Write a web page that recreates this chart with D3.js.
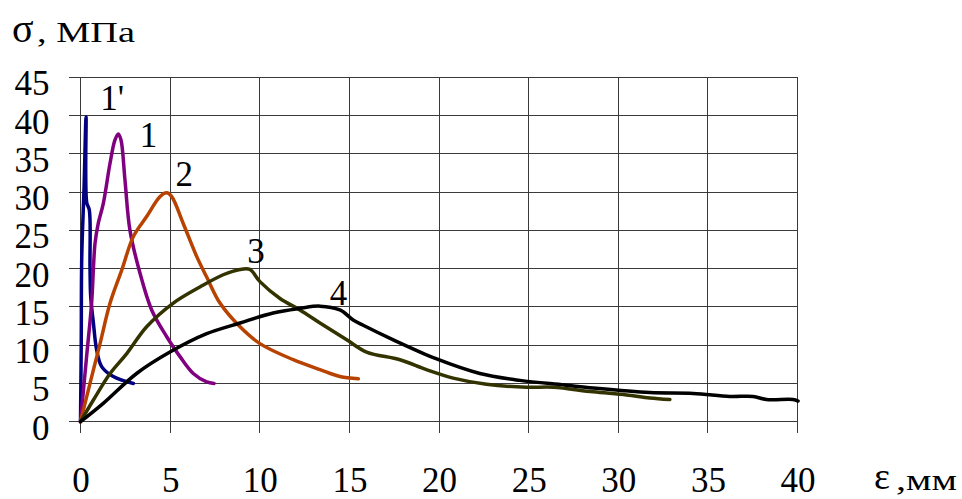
<!DOCTYPE html>
<html>
<head>
<meta charset="utf-8">
<script src="https://cdn.jsdelivr.net/npm/d3@7/dist/d3.min.js"></script>
<style>
  html, body { margin: 0; padding: 0; background: #fff; }
  svg { display: block; }
  text { font-family: "Times New Roman", Times, "Liberation Serif", Tinos, "Nimbus Roman", FreeSerif, serif; fill: #000; }
</style>
</head>
<body>
<svg id="chart" width="962" height="499"></svg>
<script>
// Stress–strain curves σ(ε) for specimens 1', 1, 2, 3, 4
const xTicks = [0, 5, 10, 15, 20, 25, 30, 35, 40];
const yTicks = [0, 5, 10, 15, 20, 25, 30, 35, 40, 45];

const curve1p = [[0,0],[0.04,10],[0.07,21.5],[0.2,30.7],[0.31,39.8],[0.35,28.6],[0.49,27.7],[0.53,20.3],[0.57,16.3],[0.72,12.9],[0.9,9.4],[1.18,7.2],[1.83,5.9],[2.95,5.0]];
const curve1 = [[0,0],[0.34,8.5],[0.62,15.5],[0.81,23.3],[0.99,25.9],[1.27,28.5],[1.65,33.8],[1.92,36.8],[2.11,37.6],[2.26,36.8],[2.48,31.6],[2.76,25.0],[3.32,19.4],[3.97,14.6],[4.81,11.1],[5.55,8.5],[6.29,6.3],[7.04,5.2],[7.45,5.0]];
const curve2 = [[0,0],[0.53,5.0],[1.09,10.2],[1.65,15.5],[2.3,19.8],[2.95,24.2],[3.69,26.8],[4.43,29.4],[4.81,29.9],[5.09,29.4],[5.73,25.9],[6.48,21.6],[7.04,18.9],[7.78,15.5],[8.9,12.4],[10.01,10.2],[11.87,8.1],[13.36,6.8],[14.47,5.9],[15.5,5.6]];
const curve3 = [[0,0],[0.71,2.8],[1.65,6.3],[2.58,8.9],[3.69,12.4],[5.18,15.5],[6.66,17.6],[7.96,19.2],[8.9,19.9],[9.45,19.9],[10.01,18.3],[11.13,16.1],[12.24,14.6],[13.36,12.9],[14.85,10.7],[15.96,9.1],[17.82,8.1],[19.3,6.8],[20.79,5.7],[22.65,4.9],[24.89,4.5],[26.37,4.5],[28.6,3.9],[30.46,3.5],[31.76,3.1],[32.88,2.9]];
const curve4 = [[0,0],[1.27,2.4],[3.13,6.3],[4.99,9.1],[7.04,11.5],[8.9,12.9],[10.75,14.2],[12.24,14.8],[13.36,15.1],[14.47,14.6],[15.21,13.3],[15.77,12.6],[17.45,10.7],[19.87,8.2],[22.28,6.3],[24.51,5.4],[27.0,4.8],[28.6,4.4],[31.76,3.8],[34.18,3.7],[36.22,3.3],[37.52,3.3],[38.27,2.9],[39.75,2.9],[40.03,2.7]];

const seriesNames = ["1'", "1", "2", "3", "4"];
const seriesData = [curve1p, curve1, curve2, curve3, curve4];
const seriesColors = ["#000080", "#800080", "#b84300", "#333300", "#000000"];
// label anchor points in data units (left edge, baseline)
const labelPos = [[1.1, 40.7], [3.3, 35.9], [5.3, 30.8], [9.3, 20.8], [13.9, 15.3]];

const svg = d3.select("#chart");
const x = d3.scaleLinear().domain([0, 40]).range([80.5, 797.5]);
const y = d3.scaleLinear().domain([0, 45]).range([421.7, 77.3]);

// grid
const grid = svg.append("g").attr("stroke", "#3a3a3a").attr("stroke-width", 1).attr("shape-rendering", "crispEdges");
grid.selectAll("line.h").data(yTicks).join("line")
  .attr("x1", x(0) - 12).attr("x2", x(40))
  .attr("y1", d => y(d)).attr("y2", d => y(d));
grid.selectAll("line.v").data(xTicks).join("line")
  .attr("x1", d => x(d)).attr("x2", d => x(d))
  .attr("y1", y(45)).attr("y2", y(0) + 11);

// axes (labels only; lines drawn as grid above)
const yAxis = svg.append("g").attr("transform", `translate(${x(0)},0)`)
  .call(d3.axisLeft(y).tickValues(yTicks).tickSize(0).tickPadding(31));
yAxis.select(".domain").remove();
yAxis.attr("font-family", null).attr("font-size", 35);
yAxis.selectAll("text").attr("dy", 17.5).attr("fill", "#000");

const xAxis = svg.append("g").attr("transform", `translate(0,${y(0)})`)
  .call(d3.axisBottom(x).tickValues(xTicks).tickSize(0).tickPadding(0));
xAxis.select(".domain").remove();
xAxis.attr("font-family", null).attr("font-size", 35);
xAxis.selectAll("text").attr("dy", 70).attr("fill", "#000");

// curves
const line = d3.line().x(d => x(d[0])).y(d => y(d[1])).curve(d3.curveCatmullRom.alpha(0.5));
svg.append("g").selectAll("path").data(seriesData).join("path")
  .attr("d", line)
  .attr("fill", "none")
  .attr("stroke", (d, i) => seriesColors[i])
  .attr("stroke-width", 3.5)
  .attr("stroke-linejoin", "round")
  .attr("stroke-linecap", "round");

// curve labels
svg.append("g").selectAll("text").data(seriesNames).join("text")
  .attr("x", (d, i) => x(labelPos[i][0]))
  .attr("y", (d, i) => y(labelPos[i][1]))
  .attr("font-size", 35)
  .text(d => d);

// axis titles
svg.append("text").attr("x", 12).attr("y", 42).attr("font-size", 40).text("σ");
svg.append("text").attr("x", 37).attr("y", 42).attr("font-size", 30)
  .attr("textLength", 98).attr("lengthAdjust", "spacingAndGlyphs").text(", МПа");
svg.append("text").attr("x", 874).attr("y", 489).attr("font-size", 38).text("ε");
svg.append("text").attr("x", 896).attr("y", 490).attr("font-size", 30)
  .attr("textLength", 61).attr("lengthAdjust", "spacingAndGlyphs").text(" ,мм");
</script>
</body>
</html>
